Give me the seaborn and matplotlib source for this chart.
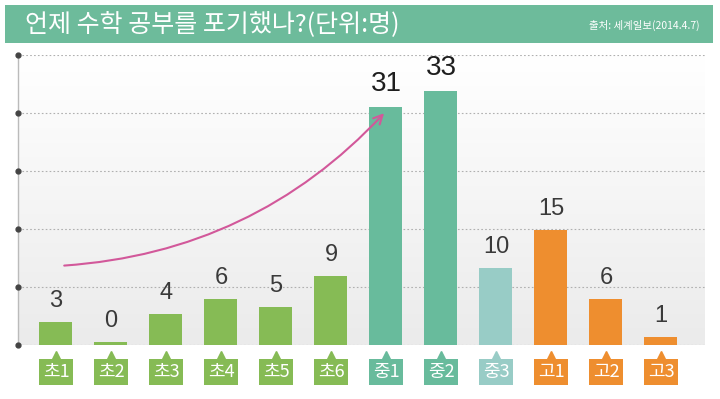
import numpy as np
import pandas as pd
import seaborn as sns
import matplotlib.pyplot as plt
import matplotlib.transforms as mtransforms
from matplotlib.patches import Rectangle

# 데이터
grades = ['초1', '초2', '초3', '초4', '초5', '초6', '중1', '중2', '중3', '고1', '고2', '고3']
counts = [3, 0, 4, 6, 5, 9, 31, 33, 10, 15, 6, 1]
bar_colors = ['#86bb55'] * 6 + ['#68bb9c', '#68bb9c', '#98ccc6'] + ['#ee8e2f'] * 3

title = '언제 수학 공부를 포기했나?(단위:명)'
source = '출처: 세계일보(2014.4.7)'

sns.set_theme(style='white')
plt.rcParams['font.family'] = ['Noto Sans CJK KR', 'DejaVu Sans']

df = pd.DataFrame({'grade': grades, 'count': counts})
# 0명도 얇은 막대로 보이게
df['shown'] = df['count'].clip(lower=0.35)

fig = plt.figure(figsize=(7.2, 3.99), dpi=100)
fig.patch.set_facecolor('white')

# 제목 띠
band = Rectangle((5 / 720, 1 - 43 / 399), 708 / 720, 38 / 399, transform=fig.transFigure,
                 facecolor='#6dbb9b', edgecolor='none')
fig.patches.append(band)
fig.text(25 / 720, 1 - 24 / 399, title, color='white', fontsize=18, va='center', ha='left')
fig.text(700 / 720, 1 - 25 / 399, source, color='white', fontsize=7.5, va='center', ha='right')

ax = fig.add_axes([18 / 720, 1 - 345 / 399, (705 - 18) / 720, (345 - 55) / 399])

ymax = 37.7
xlim = (-0.69, 11.8)

# 배경 그라데이션 (위 흰색 -> 아래 연회색)
grad = np.linspace(0, 1, 100).reshape(-1, 1)
ax.imshow(grad, extent=(xlim[0], xlim[1], 0, ymax), aspect='auto', origin='upper',
          cmap=plt.matplotlib.colors.LinearSegmentedColormap.from_list('bg', ['#ffffff', '#ebebeb']),
          zorder=0)

sns.barplot(data=df, x='grade', y='shown', hue='grade', palette=bar_colors,
            legend=False, width=0.6, ax=ax, saturation=1, zorder=3, edgecolor='none')

ax.set_ylim(0, ymax)
ax.set_xlim(*xlim)
ticks = np.linspace(0, ymax, 6)
ax.set_yticks(ticks)
for t in ticks:
    ax.axhline(t, color='#b0b0b0', linestyle=(0, (1.5, 2)), linewidth=0.8, zorder=1)
ax.plot([xlim[0]] * len(ticks), ticks, 'o', color='#444444', markersize=3.5,
        clip_on=False, zorder=5)

for s in ['top', 'right', 'bottom']:
    ax.spines[s].set_visible(False)
ax.spines['left'].set_color('#bbbbbb')
ax.spines['left'].set_linewidth(1)
ax.set_xlabel('')
ax.set_ylabel('')
ax.set_xticks([])
ax.set_yticklabels([])
ax.tick_params(length=0)

# 값 라벨
for i, v in enumerate(counts):
    big = v >= 30
    ax.text(i, df['shown'][i] + 1.3, str(v), ha='center', va='bottom',
            fontsize=20 if big else 17, color='#1e1e1e' if big else '#3a3a3a',
            family='Liberation Sans', zorder=4)

# 학년 라벨 박스 + 위쪽 뾰족이
for i, (g, c) in enumerate(zip(grades, bar_colors)):
    ax.annotate(g, xy=(i, 0), xycoords='data', xytext=(0, -19.5), textcoords='offset points',
                ha='center', va='center', fontsize=13, color='white',
                bbox=dict(boxstyle='square,pad=0.22', facecolor=c, edgecolor='none'),
                annotation_clip=False)
    off = mtransforms.ScaledTranslation(0, -7 / 72, fig.dpi_scale_trans)
    ax.plot(i, 0, marker='^', color=c, markersize=6, clip_on=False,
            transform=ax.transData + off)

# 화살표
ax.annotate('', xy=(6.0, counts[6] - 0.6), xytext=(0.1, 10.3),
            arrowprops=dict(arrowstyle='->', color='#d2589a', lw=1.5,
                            connectionstyle='arc3,rad=0.2', mutation_scale=16), zorder=6)

fig.savefig('out.png', dpi=100)
